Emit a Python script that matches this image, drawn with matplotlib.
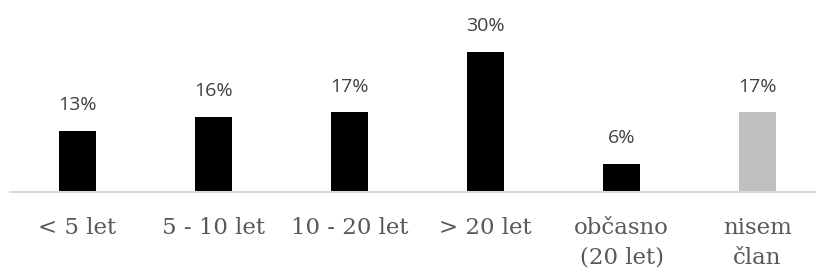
import matplotlib.pyplot as plt

# podatki
categories = ['< 5 let', '5 - 10 let', '10 - 20 let', '> 20 let', 'občasno\n(20 let)', 'nisem\nčlan']
values = [13, 16, 17, 30, 6, 17]
colors = ['#000000', '#000000', '#000000', '#000000', '#000000', '#bfbfbf']

fig = plt.figure(figsize=(8.16, 2.73), dpi=100)
ax = fig.add_axes([9.5 / 816, 81 / 273, 816 / 816, 192 / 273])

x = range(len(categories))
ax.bar(x, values, width=0.27, color=colors)
ax.set_xlim(-0.5, len(categories) - 0.5)
ax.set_ylim(0, 192 / 4.68)

# oznake vrednosti
for i, v in enumerate(values):
    ax.annotate(f"{v}%", (i, v), textcoords="offset points", xytext=(0, 12),
                ha='center', va='bottom', fontsize=14, color='#404040',
                family='Open Sans')

ax.set_xticks(list(x))
ax.set_xticklabels(categories, family='DejaVu Serif', fontsize=16.5,
                   color='#595959', linespacing=1.45)
ax.tick_params(axis='x', length=0, pad=18)
ax.set_yticks([])

for s in ['top', 'right', 'left']:
    ax.spines[s].set_visible(False)
ax.spines['bottom'].set_color('#d9d9d9')
ax.spines['bottom'].set_linewidth(1.5)

plt.savefig('out.png', dpi=100)
